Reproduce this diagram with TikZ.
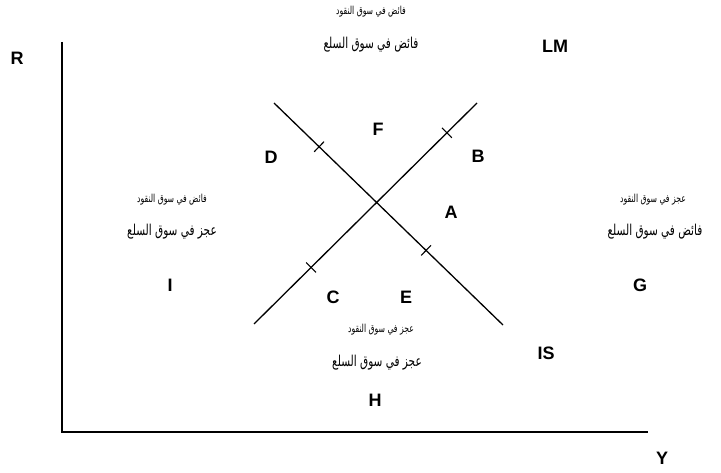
\documentclass[tikz,border=0pt]{standalone}
\usepackage{fontspec}
\setmainfont{Liberation Sans}
\newfontfamily\arabicfont[Script=Arabic]{DejaVu Sans}
\TeXXeTstate=1
\usetikzlibrary{calc}
% Arabic phrase in a given size, narrowed a little
\newcommand{\arphrase}[2]{\scalebox{0.7}[1]{\arabicfont\fontsize{#1}{#1}\selectfont #2}}
\begin{document}
\begin{tikzpicture}[x=1pt,y=-1pt,
  axis/.style={line width=1.5pt},
  curve/.style={line width=1.3pt},
  tickmark/.style={line width=1.1pt},
  lbl/.style={font=\fontsize{18}{18}\selectfont\bfseries, inner sep=0pt},
  arlabel/.style={inner sep=0pt}]
\useasboundingbox (0,0) rectangle (721,473);

% axes
\coordinate (origin) at (62,432);
\coordinate (ytop) at (62,42);
\coordinate (xend) at (648,432);
\draw[axis] (ytop) -- (origin) -- (xend);
\node[lbl] (R) at (17,58) {R};
\node[lbl] (Y) at (662,458) {Y};

% LM and IS curves
\coordinate (lmA) at (254,324);
\coordinate (lmB) at (477,103);
\coordinate (isA) at (274,103);
\coordinate (isB) at (503,325);
\draw[curve] (lmA) -- (lmB);
\draw[curve] (isA) -- (isB);

% tick marks on the curves
\path (lmA) -- (lmB) coordinate[pos=0.256] (t1) coordinate[pos=0.865] (t2);
\path (isA) -- (isB) coordinate[pos=0.197] (t3) coordinate[pos=0.664] (t4);
\foreach \t/\e in {t1/lmB,t2/lmB,t3/isB,t4/isB}{
  \draw[tickmark] ($(\t)!7pt!90:(\e)$) -- ($(\t)!7pt!-90:(\e)$);
}

\node[lbl] (LM) at (555,46) {LM};
\node[lbl] (IS) at (546,353) {IS};

% region letters
\node[lbl] (F) at (378,129) {F};
\node[lbl] (D) at (271,157) {D};
\node[lbl] (B) at (478,156) {B};
\node[lbl] (A) at (451,212) {A};
\node[lbl] (I) at (170,285) {I};
\node[lbl] (C) at (333,297) {C};
\node[lbl] (E) at (406,297) {E};
\node[lbl] (G) at (640,285) {G};
\node[lbl] (H) at (375,400) {H};

% market conditions
\node[arlabel] (topm) at (371,12) {\arphrase{11}{\beginR فائض في سوق النقود\endR}};
\node[arlabel] (topg) at (371,45) {\arphrase{15}{\beginR فائض في سوق السلع\endR}};
\node[arlabel] (leftm) at (172,200) {\arphrase{11}{\beginR فائض في سوق النقود\endR}};
\node[arlabel] (leftg) at (172,232) {\arphrase{15}{\beginR عجز في سوق السلع\endR}};
\node[arlabel] (rightm) at (653,200) {\arphrase{11}{\beginR عجز في سوق النقود\endR}};
\node[arlabel] (rightg) at (655,232) {\arphrase{15}{\beginR فائض في سوق السلع\endR}};
\node[arlabel] (botm) at (381,330) {\arphrase{11}{\beginR عجز في سوق النقود\endR}};
\node[arlabel] (botg) at (377,363) {\arphrase{15}{\beginR عجز في سوق السلع\endR}};
\end{tikzpicture}
\end{document}
